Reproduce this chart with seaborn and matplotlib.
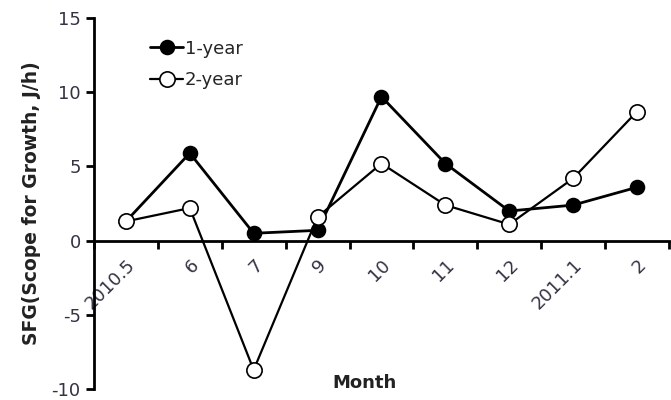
import seaborn as sns
import numpy as np
import pandas as pd
import matplotlib
matplotlib.use("Agg")
import matplotlib.pyplot as plt
from matplotlib.ticker import FixedLocator

sns.set_style("white")
plt.rcParams["font.family"] = ["DejaVu Sans"]
plt.rcParams["axes.unicode_minus"] = False

# data
months = ["2010.5", "6", "7", "9", "10", "11", "12", "2011.1", "2"]
one_year = [1.3, 5.9, 0.5, 0.7, 9.7, 5.2, 2.0, 2.4, 3.6]
two_year = [1.3, 2.2, -8.7, 1.6, 5.2, 2.4, 1.1, 4.2, 8.7]

df = pd.DataFrame({
    "Month": months * 2,
    "SFG": one_year + two_year,
    "Group": ["1-year"] * len(months) + ["2-year"] * len(months),
})

fig = plt.figure(figsize=(6.71, 4.0), dpi=100)
ax = fig.add_axes([0.14, 0.027, 0.857, 0.928])

# 1-year: filled markers
sns.lineplot(data=df[df.Group == "1-year"], x="Month", y="SFG", color="black",
             marker="o", markersize=10, markerfacecolor="black",
             markeredgecolor="black", markeredgewidth=1.2, linewidth=2,
             label="1-year", ax=ax)
# 2-year: open markers
sns.lineplot(data=df[df.Group == "2-year"], x="Month", y="SFG", color="black",
             marker="o", markersize=11, markerfacecolor="white",
             markeredgecolor="black", markeredgewidth=1.2, linewidth=1.6,
             label="2-year", ax=ax)

ax.set_xlim(-0.5, len(months) - 0.5)
ax.set_ylim(-10, 15)
ax.set_yticks([-10, -5, 0, 5, 10, 15])

ax.spines["top"].set_visible(False)
ax.spines["right"].set_visible(False)
ax.spines["bottom"].set_position(("data", 0))
ax.spines["bottom"].set_linewidth(2)
ax.spines["left"].set_linewidth(2)
ax.spines["bottom"].set_color("black")
ax.spines["left"].set_color("black")

# ticks between categories (Excel style)
ax.xaxis.set_minor_locator(FixedLocator(np.arange(-0.5, len(months), 1.0)))
ax.tick_params(axis="x", which="major", bottom=True, length=0, pad=11,
               labelsize=13, labelcolor="#333344")
ax.tick_params(axis="x", which="minor", bottom=True, length=6, width=2,
               direction="out", color="black")
ax.tick_params(axis="y", left=True, length=6, width=2, direction="out",
               labelsize=13, labelcolor="#333344", color="black")
plt.setp(ax.get_xticklabels(), rotation=45, ha="right", rotation_mode="anchor")

ax.set_xlabel("Month", fontsize=13, fontweight="bold", color="#222222")
ax.xaxis.set_label_coords(0.47, 0.04)
ax.set_ylabel("SFG(Scope for Growth, J/h)", fontsize=13.5, fontweight="bold",
              color="#222222", labelpad=8)

leg = ax.legend(loc="upper left", bbox_to_anchor=(0.07, 0.985), frameon=False,
                fontsize=13, handlelength=1.8, handletextpad=0.1,
                labelspacing=0.75)

plt.savefig("out.png", dpi=100)
